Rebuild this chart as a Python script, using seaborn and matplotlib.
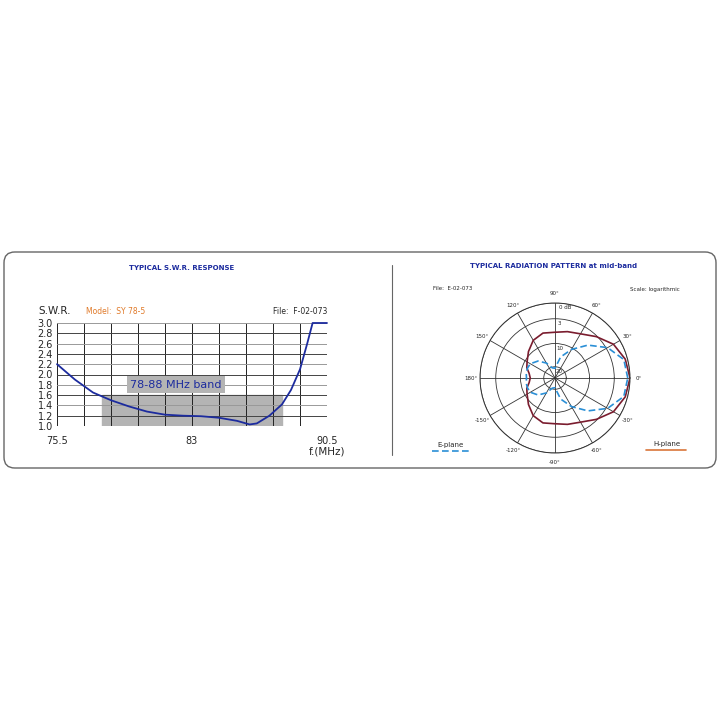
import numpy as np
import pandas as pd
import matplotlib
matplotlib.use("Agg")
import matplotlib.pyplot as plt
from matplotlib.patches import FancyBboxPatch, Rectangle
import seaborn as sns

sns.set_theme(style="white")
plt.rcParams['font.family'] = ['DejaVu Sans']

# SWR response
freq = [75.5, 76.5, 77.5, 78.5, 79.5, 80.5, 81.5, 82.5, 83.5, 84.5, 85.5, 86.2, 86.6,
        87.3, 88.0, 88.5, 89.0, 89.4, 89.7, 90.5]
swr = [2.2, 1.9, 1.65, 1.5, 1.38, 1.28, 1.22, 1.2, 1.19, 1.16, 1.1, 1.03, 1.05,
       1.2, 1.42, 1.7, 2.1, 2.6, 3.0, 3.0]
band = (78.0, 88.0, 1.6)

# radiation pattern (relative radius, 1 = 0 dB), symmetric about 0°
angles_deg = [0, 15, 30, 45, 60, 75, 90, 105, 120, 135, 150, 160, 170, 180]
h_plane = [1.0, 0.97, 0.90, 0.78, 0.68, 0.64, 0.61, 0.62, 0.58, 0.50, 0.43, 0.40, 0.35, 0.33]
e_plane = [0.97, 0.95, 0.81, 0.62, 0.44, 0.29, 0.13, 0.14, 0.23, 0.32, 0.38, 0.39, 0.39, 0.38]
ring_r = [0.15, 0.46, 0.79, 1.0]
ring_lbl = ["20", "10", "3", "0 dB"]

fig = plt.figure(figsize=(7.2, 7.2), dpi=100)
fig.patch.set_facecolor("white")

box = FancyBboxPatch((4 / 720, 252 / 720), 712 / 720, 216 / 720, transform=fig.transFigure,
                     boxstyle="round,pad=0,rounding_size=0.015", fc="none", ec="#666666", lw=1,
                     zorder=-10)
fig.patches.append(box)
fig.add_artist(plt.Line2D([392 / 720, 392 / 720], [(720 - 455) / 720, (720 - 265) / 720],
                          color="#666666", lw=0.8, transform=fig.transFigure))

def fy(y):
    return (720 - y) / 720

# ---- left: SWR
ax = fig.add_axes([57 / 720, fy(426), 270 / 720, 103 / 720])
ax.add_patch(Rectangle((band[0], 1.0), band[1] - band[0], band[2] - 1.0, color="#b4b4b4", zorder=0))
for xv in np.arange(75.5, 90.6, 1.5):
    ax.axvline(xv, color="#222222", lw=0.7, zorder=1)
for yv in np.arange(1.0, 3.01, 0.2):
    ax.axhline(yv, color="#999999" if round(yv * 10) % 4 else "#444444", lw=0.7, zorder=1)
sns.lineplot(x=freq, y=swr, ax=ax, color="#1c2b9e", lw=1.3, zorder=3, clip_on=False)
ax.set_xlim(75.5, 90.5)
ax.set_ylim(1.0, 3.0)
ax.set_xticks([75.5, 83, 90.5])
ax.set_xticklabels(["75.5", "83", "90.5"], fontsize=7)
ax.set_yticks(np.arange(1.0, 3.01, 0.2))
ax.set_yticklabels([f"{v:.1f}" for v in np.arange(1.0, 3.01, 0.2)], fontsize=7)
ax.tick_params(axis="y", length=0, pad=3)
ax.tick_params(axis="x", length=0, pad=7)
for s in ax.spines.values():
    s.set_visible(False)
ax.text(82.1, 1.8, "78-88 MHz band", fontsize=8, color="#1c2b9e", ha="center", va="center",
        bbox=dict(fc="#b4b4b4", ec="none", pad=2.5))
fig.text(182 / 720, fy(268), "TYPICAL S.W.R. RESPONSE", fontsize=5, color="#1c2b9e",
         ha="center", va="center", fontweight="bold")
fig.text(38 / 720, fy(311), "S.W.R.", fontsize=7.5, ha="left", va="center")
fig.text(86 / 720, fy(311), "Model:  SY 78-5", fontsize=5.5, color="#e07a2a", ha="left", va="center")
fig.text(327 / 720, fy(311), "File:  F-02-073", fontsize=5.5, ha="right", va="center")
fig.text(345 / 720, fy(451), "f.(MHz)", fontsize=7.5, ha="right", va="center")

# ---- right: polar pattern
pa = fig.add_axes([480 / 720, fy(453), 150 / 720, 150 / 720], projection="polar")
theta_half = np.deg2rad(angles_deg)
theta = np.concatenate([theta_half, 2 * np.pi - theta_half[::-1][1:]])
h_full = h_plane + h_plane[::-1][1:]
e_full = e_plane + e_plane[::-1][1:]
sns.lineplot(x=theta, y=h_full, ax=pa, color="#7a1c2e", lw=1.2, sort=False)
sns.lineplot(x=theta, y=e_full, ax=pa, color="#2a8fd6", lw=1.2, sort=False, linestyle=(0, (4, 2)))
pa.set_ylim(0, 1.0)
pa.set_yticks(ring_r)
pa.set_yticklabels([])
pa.set_xticks(np.deg2rad(np.arange(0, 360, 30)))
pa.set_xticklabels([])
pa.grid(True, color="#333333", lw=0.6)
pa.spines["polar"].set_color("#333333")
pa.spines["polar"].set_linewidth(0.7)
for r, lb in zip(ring_r, ring_lbl):
    pa.text(np.deg2rad(87), r - 0.06, lb, fontsize=4, ha="left", va="center")
for a in range(-150, 181, 30):
    lab = f"{a}°"
    pa.text(np.deg2rad(a), 1.12, lab, fontsize=4, ha="center", va="center")
fig.text(554 / 720, fy(266), "TYPICAL RADIATION PATTERN at mid-band", fontsize=5, color="#1c2b9e",
         ha="center", va="center", fontweight="bold")
fig.text(433 / 720, fy(289), "File:  E-02-073", fontsize=4, ha="left", va="center")
fig.text(680 / 720, fy(289), "Scale: logarithmic", fontsize=4, ha="right", va="center")
fig.text(450 / 720, fy(445), "E-plane", fontsize=5, ha="center", va="center")
fig.add_artist(plt.Line2D([432 / 720, 472 / 720], [fy(451), fy(451)], color="#2a8fd6", lw=1.2,
                          linestyle=(0, (4, 2)), transform=fig.transFigure))
fig.text(667 / 720, fy(444), "H-plane", fontsize=5, ha="center", va="center")
fig.add_artist(plt.Line2D([646 / 720, 686 / 720], [fy(450), fy(450)], color="#d9753a", lw=1.2,
                          transform=fig.transFigure))

fig.savefig("out.png", dpi=100)
